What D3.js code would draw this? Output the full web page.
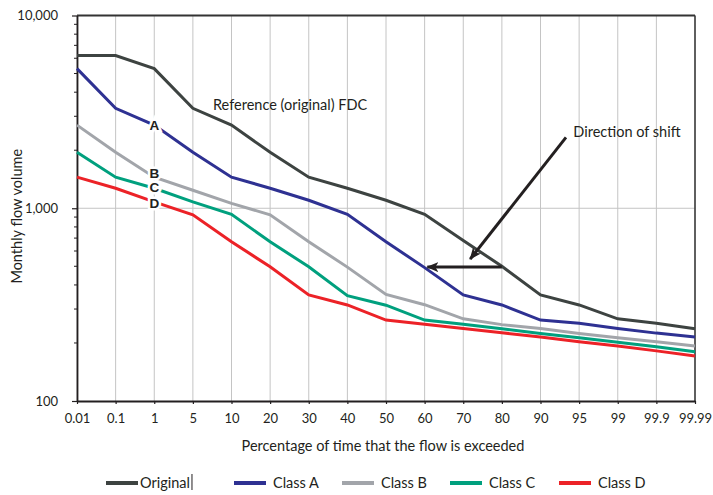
<!DOCTYPE html>
<html>
<head>
<meta charset="utf-8">
<script src="https://cdn.jsdelivr.net/npm/d3@7"></script>
<style>
  html, body { margin: 0; padding: 0; background: #fff; }
  svg { display: block; }
  text { font-family: Lato, "Open Sans", sans-serif; fill: #231f20; }
</style>
</head>
<body>
<svg id="chart" width="713" height="495"></svg>
<script>
// ---- data ----
const categories = ["0.01","0.1","1","5","10","20","30","40","50","60","70","80","90","95","99","99.9","99.99"];
const original = [6200, 6200, 5300, 3300, 2700, 1950, 1450, 1270, 1100, 930, 680, 500, 355, 315, 267, 253, 237];
const classA   = [5300, 3300, 2700, 1950, 1450, 1270, 1100, 930, 670, 492, 355, 315, 263, 253, 238, 225, 215];
const classB   = [2700, 1950, 1450, 1240, 1060, 925, 670, 495, 357, 316, 267, 249, 238, 224, 213, 203, 193];
const classC   = [1950, 1450, 1270, 1080, 930, 670, 497, 352, 314, 263, 250, 237, 224, 213, 202, 191, 180];
const classD   = [1450, 1270, 1080, 925, 670, 497, 355, 315, 263, 250, 238, 226, 215, 203, 193, 182, 171];
const seriesNames = ["Original", "Class A", "Class B", "Class C", "Class D"];
const seriesColors = ["#3d4341", "#2e3192", "#a2a5aa", "#00a07e", "#ec2227"];
const classLabels = ["A", "B", "C", "D"];
const yTickValues = [100, 1000, 10000];
const yAxisTitle = "Monthly flow volume";
const xAxisTitle = "Percentage of time that the flow is exceeded";
const refLabel = "Reference (original) FDC";
const shiftLabel = "Direction of shift";
// annotation anchors: [category index, value]
const refLabelAnchor = [3.52, 3230];
const shiftLabelAnchor = [12.85, 2340];
const diagArrow = [[12.66, 2330], [10.18, 545]];
const horizArrow = [[11, 495], [9.07, 495]];

const allSeries = [original, classA, classB, classC, classD];

// ---- layout ----
const svg = d3.select("#chart");
const mLeft = 77, mRight = 695, mTop = 15.5, mBottom = 401;

const x = d3.scalePoint().domain(categories).range([mLeft, mRight]).padding(0);
const step = x.step();
const xi = i => mLeft + i * step;
const y = d3.scaleLog().domain([100, 10000]).range([mBottom, mTop]);

// vertical grid
svg.append("g").selectAll("line").data(categories).join("line")
  .attr("x1", d => x(d)).attr("x2", d => x(d))
  .attr("y1", mTop).attr("y2", mBottom)
  .attr("stroke", "#c4c4c4").attr("stroke-width", 1);
// horizontal grid at 1000
svg.append("line").attr("x1", mLeft).attr("x2", mRight)
  .attr("y1", y(1000)).attr("y2", y(1000))
  .attr("stroke", "#c4c4c4").attr("stroke-width", 1);

// frame top/right
svg.append("line").attr("x1", mLeft).attr("x2", mRight).attr("y1", y(10000)).attr("y2", y(10000))
  .attr("stroke", "#333").attr("stroke-width", 1.8);
svg.append("line").attr("x1", mRight).attr("x2", mRight).attr("y1", mTop).attr("y2", mBottom)
  .attr("stroke", "#333").attr("stroke-width", 1.5);

// y axis
const minorTicks = [];
[100, 1000].forEach(b => { for (let k = 2; k <= 9; k++) minorTicks.push(b * k); });
const yAxis = svg.append("g").attr("transform", `translate(${mLeft},0)`);
yAxis.call(d3.axisLeft(y).tickValues(yTickValues).tickFormat(d3.format(",")).tickSize(5).tickSizeOuter(0));
yAxis.select(".domain").attr("stroke", "#231f20").attr("stroke-width", 1.8);
yAxis.selectAll(".tick line").attr("stroke", "#231f20").attr("stroke-width", 1.2);
yAxis.selectAll(".tick text").attr("x", -19).style("font-family", "Lato, sans-serif").style("font-size", "13px").attr("fill", "#231f20");
yAxis.append("g").selectAll("line").data(minorTicks).join("line")
  .attr("x1", -3).attr("x2", 0).attr("y1", d => y(d)).attr("y2", d => y(d))
  .attr("stroke", "#231f20").attr("stroke-width", 1);

// x axis
const xAxis = svg.append("g").attr("transform", `translate(0,${mBottom})`);
xAxis.call(d3.axisBottom(x).tickSize(3).tickSizeOuter(0));
xAxis.select(".domain").attr("stroke", "#231f20").attr("stroke-width", 1.8);
xAxis.selectAll(".tick line").attr("stroke", "#231f20").attr("stroke-width", 1.2);
xAxis.selectAll(".tick text").attr("y", 13).style("font-family", "Lato, sans-serif").style("font-size", "13px").attr("fill", "#231f20");

// axis titles
svg.append("text").attr("x", (mLeft + mRight) / 2 - 3).attr("y", 451)
  .attr("text-anchor", "middle").style("font-size", "14.5px").text(xAxisTitle);
svg.append("text").attr("transform", `translate(22,${(mTop + mBottom) / 2 + 8}) rotate(-90)`)
  .attr("text-anchor", "middle").style("font-size", "14.5px").text(yAxisTitle);

// series lines
const line = d3.line().x((d, i) => x(categories[i])).y(d => y(d));
svg.append("g").selectAll("path").data(allSeries).join("path")
  .attr("d", d => line(d)).attr("fill", "none")
  .attr("stroke", (d, i) => seriesColors[i]).attr("stroke-width", 3)
  .attr("stroke-linejoin", "miter");

// class labels at category "1"
const labelOffsets = [0, -4, -1, 1];
svg.append("g").selectAll("text").data(classLabels).join("text")
  .attr("x", x("1")).attr("y", (d, i) => y(allSeries[i + 1][2]) + labelOffsets[i])
  .attr("dy", "0.36em").attr("text-anchor", "middle")
  .style("font-family", "'Liberation Sans', Arial, sans-serif").style("font-weight", "bold").style("font-size", "13.5px")
  .attr("stroke", "#fff").attr("stroke-width", 5).attr("paint-order", "stroke")
  .text(d => d);

// annotation text
svg.append("text").attr("x", xi(refLabelAnchor[0])).attr("y", y(refLabelAnchor[1]))
  .style("font-size", "14.5px").text(refLabel);
svg.append("text").attr("x", xi(shiftLabelAnchor[0])).attr("y", y(shiftLabelAnchor[1]))
  .style("font-size", "14.5px").text(shiftLabel);

// arrows
const defs = svg.append("defs");
defs.append("marker").attr("id", "ah").attr("viewBox", "0 0 12 10")
  .attr("refX", 11).attr("refY", 5).attr("markerWidth", 12).attr("markerHeight", 10)
  .attr("markerUnits", "userSpaceOnUse").attr("orient", "auto")
  .append("path").attr("d", "M0,0 L12,5 L0,10 L3,5 Z").attr("fill", "#231f20");
[diagArrow, horizArrow].forEach(a => {
  svg.append("line")
    .attr("x1", xi(a[0][0])).attr("y1", y(a[0][1]))
    .attr("x2", xi(a[1][0])).attr("y2", y(a[1][1]))
    .attr("stroke", "#231f20").attr("stroke-width", 3)
    .attr("marker-end", "url(#ah)");
});

// legend
const legendX = [106, 234, 342, 450, 559];
const lg = svg.append("g");
seriesNames.forEach((name, i) => {
  lg.append("line").attr("x1", legendX[i]).attr("x2", legendX[i] + 32)
    .attr("y1", 483).attr("y2", 483).attr("stroke", seriesColors[i]).attr("stroke-width", 4);
  const t = lg.append("text").attr("x", legendX[i] + (i === 0 ? 34 : 39)).attr("y", 488)
    .style("font-size", "14.5px").text(name);
  if (i === 0) {
    const bb = t.node().getBBox();
    lg.append("line").attr("x1", bb.x + bb.width + 2).attr("x2", bb.x + bb.width + 2)
      .attr("y1", 474).attr("y2", 490).attr("stroke", "#231f20").attr("stroke-width", 1);
  }
});
</script>
</body>
</html>
